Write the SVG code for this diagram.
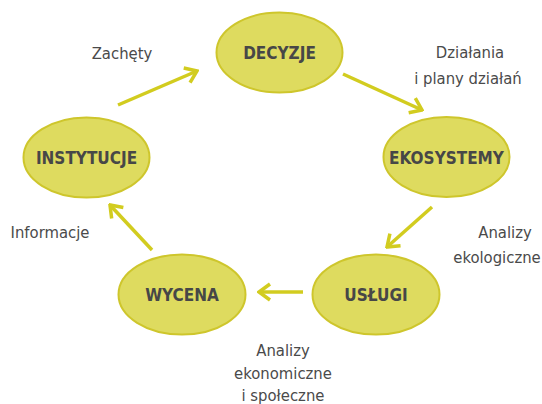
<svg xmlns="http://www.w3.org/2000/svg" width="542" height="404" viewBox="0 0 542 404">
  <style>
    .node ellipse { fill: #dedb5f; stroke: #cec62c; stroke-width: 2; }
    .node text { font-family: "DejaVu Sans", sans-serif; font-stretch: condensed; font-weight: bold; font-size: 17px; fill: #474747; text-anchor: middle; dominant-baseline: central; }
    .label { font-family: "DejaVu Sans", sans-serif; font-stretch: condensed; font-size: 16.5px; fill: #4a4a4a; text-anchor: middle; }
    .edge { stroke: #d2cc1f; stroke-width: 3.5; fill: none; marker-end: url(#chevron); }
  </style>
  <defs>
    <marker id="chevron" markerUnits="userSpaceOnUse" viewBox="-14 -10 16 20" markerWidth="16" markerHeight="20" refX="0" refY="0" orient="auto">
      <path d="M-11,-8 L0,0 L-11,8" fill="none" stroke="#d2cc1f" stroke-width="3.5" stroke-linecap="butt" stroke-linejoin="miter"/>
    </marker>
  </defs>

  <g id="connectors">
    <line class="edge" x1="118" y1="105" x2="197" y2="71"/>
    <line class="edge" x1="343" y1="74" x2="422" y2="110"/>
    <line class="edge" x1="432" y1="207" x2="387" y2="247"/>
    <line class="edge" x1="303" y1="292" x2="259" y2="292"/>
    <line class="edge" x1="152" y1="250" x2="110" y2="205"/>
  </g>

  <g id="decyzje" class="node">
    <ellipse cx="279.5" cy="52.5" rx="63" ry="40"/>
    <text x="279.5" y="53">DECYZJE</text>
  </g>
  <g id="ekosystemy" class="node">
    <ellipse cx="446.5" cy="157" rx="63" ry="40"/>
    <text x="446.5" y="157.5">EKOSYSTEMY</text>
  </g>
  <g id="uslugi" class="node">
    <ellipse cx="376" cy="294.5" rx="63.5" ry="40"/>
    <text x="376" y="295">USŁUGI</text>
  </g>
  <g id="wycena" class="node">
    <ellipse cx="182" cy="294.5" rx="63.5" ry="40"/>
    <text x="182" y="295">WYCENA</text>
  </g>
  <g id="instytucje" class="node">
    <ellipse cx="86.5" cy="157.5" rx="63" ry="40"/>
    <text x="86.5" y="158">INSTYTUCJE</text>
  </g>

  <g id="labels">
    <text class="label" x="122" y="59">Zachęty</text>
    <text class="label" x="470" y="58">Działania</text>
    <text class="label" x="468" y="84">i plany działań</text>
    <text class="label" x="505" y="238">Analizy</text>
    <text class="label" x="497" y="263">ekologiczne</text>
    <text class="label" x="50" y="238">Informacje</text>
    <text class="label" x="283" y="356">Analizy</text>
    <text class="label" x="283" y="379">ekonomiczne</text>
    <text class="label" x="283" y="401">i społeczne</text>
  </g>
</svg>
